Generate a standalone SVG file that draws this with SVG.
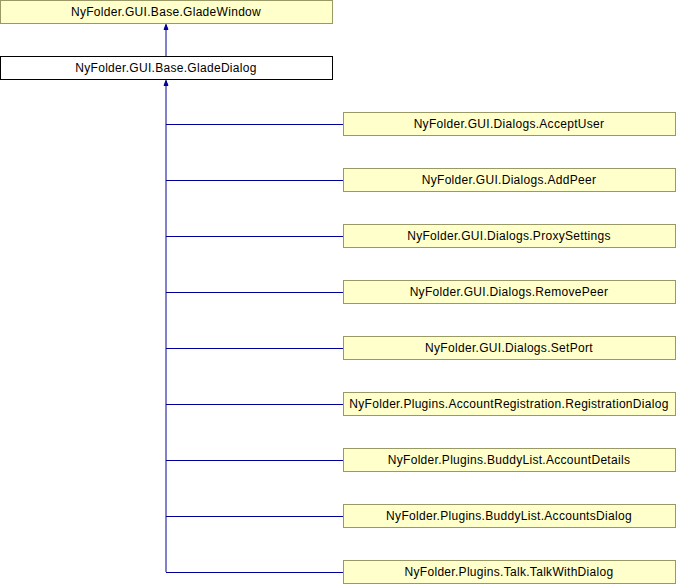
<svg xmlns="http://www.w3.org/2000/svg" width="676" height="584" viewBox="0 0 676 584">
<style>
.n{fill:#ffffcc;stroke:#999966;stroke-width:1}
.w{fill:#ffffff;stroke:#000000;stroke-width:1}
.t{font-family:"Liberation Sans",Arial,sans-serif;font-size:12px;letter-spacing:0.3px;fill:#000;text-anchor:middle}
.e{stroke:#000099;stroke-width:1;fill:none}
</style>
<defs>
<marker id="a" markerWidth="6" markerHeight="6" refX="5" refY="3" orient="auto" markerUnits="userSpaceOnUse">
<path d="M0,1 L5,3 L0,5 Z" fill="#000099" stroke="#000099" stroke-width="1"/>
</marker>
</defs>
<rect width="676" height="584" fill="#fff"/>
<g id="connectors">
<line class="e" x1="166" y1="57" x2="166" y2="24.5" marker-end="url(#a)"/>
<polyline class="e" points="166,572 166,80.5" marker-end="url(#a)"/>
<line class="e" x1="166" y1="124.5" x2="343" y2="124.5"/>
<line class="e" x1="166" y1="180.5" x2="343" y2="180.5"/>
<line class="e" x1="166" y1="236.5" x2="343" y2="236.5"/>
<line class="e" x1="166" y1="292.5" x2="343" y2="292.5"/>
<line class="e" x1="166" y1="348.5" x2="343" y2="348.5"/>
<line class="e" x1="166" y1="404.5" x2="343" y2="404.5"/>
<line class="e" x1="166" y1="460.5" x2="343" y2="460.5"/>
<line class="e" x1="166" y1="516.5" x2="343" y2="516.5"/>
<line class="e" x1="166" y1="572.5" x2="343" y2="572.5"/>
</g>
<g id="GladeWindow"><rect class="n" x="0.5" y="0.5" width="332" height="23"/><text class="t" x="166" y="16">NyFolder.GUI.Base.GladeWindow</text></g>
<g id="GladeDialog"><rect class="w" x="0.5" y="56.5" width="332" height="23"/><text class="t" x="166" y="72">NyFolder.GUI.Base.GladeDialog</text></g>
<g id="AcceptUser"><rect class="n" x="343.5" y="112.5" width="332" height="23"/><text class="t" x="509" y="128">NyFolder.GUI.Dialogs.AcceptUser</text></g>
<g id="AddPeer"><rect class="n" x="343.5" y="168.5" width="332" height="23"/><text class="t" x="509" y="184">NyFolder.GUI.Dialogs.AddPeer</text></g>
<g id="ProxySettings"><rect class="n" x="343.5" y="224.5" width="332" height="23"/><text class="t" x="509" y="240">NyFolder.GUI.Dialogs.ProxySettings</text></g>
<g id="RemovePeer"><rect class="n" x="343.5" y="280.5" width="332" height="23"/><text class="t" x="509" y="296">NyFolder.GUI.Dialogs.RemovePeer</text></g>
<g id="SetPort"><rect class="n" x="343.5" y="336.5" width="332" height="23"/><text class="t" x="509" y="352">NyFolder.GUI.Dialogs.SetPort</text></g>
<g id="RegistrationDialog"><rect class="n" x="343.5" y="392.5" width="332" height="23"/><text class="t" x="509" y="408">NyFolder.Plugins.AccountRegistration.RegistrationDialog</text></g>
<g id="AccountDetails"><rect class="n" x="343.5" y="448.5" width="332" height="23"/><text class="t" x="509" y="464">NyFolder.Plugins.BuddyList.AccountDetails</text></g>
<g id="AccountsDialog"><rect class="n" x="343.5" y="504.5" width="332" height="23"/><text class="t" x="509" y="520">NyFolder.Plugins.BuddyList.AccountsDialog</text></g>
<g id="TalkWithDialog"><rect class="n" x="343.5" y="560.5" width="332" height="23"/><text class="t" x="509" y="576">NyFolder.Plugins.Talk.TalkWithDialog</text></g>
</svg>
